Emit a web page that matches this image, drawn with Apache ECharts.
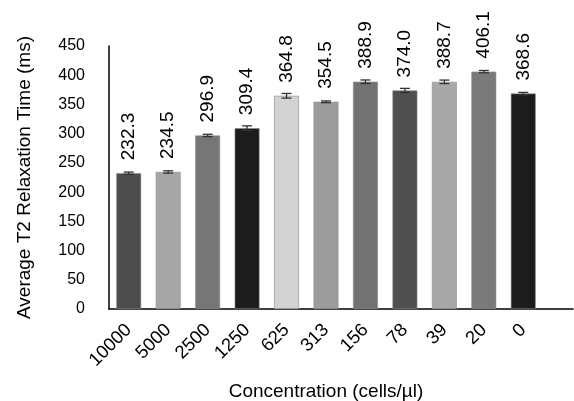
<!DOCTYPE html>
<html><head><meta charset="utf-8">
<script src="https://cdn.jsdelivr.net/npm/echarts@6/dist/echarts.min.js"></script>
<style>html,body{margin:0;padding:0;background:#fff}#c{width:574px;height:401px}</style>
</head><body><div id="c"></div>
<script>
var categories = ['10000','5000','2500','1250','625','313','156','78','39','20','0'];
var values = [232.3,234.5,296.9,309.4,364.8,354.5,388.9,374.0,388.7,406.1,368.6];
var errors = [2,2,2,4,4,1.5,3,3.5,3,2,2];
var colors = ['#4d4d4d','#a6a6a6','#767676','#1c1c1c','#d2d2d2','#9c9c9c','#727272','#505050','#a8a8a8','#7a7a7a','#1c1c1c'];
var yTicks = [0,50,100,150,200,250,300,350,400,450];

var chart = echarts.init(document.getElementById('c'), null, {renderer:'canvas'});
var font = 'Liberation Sans, Arial, sans-serif';
chart.setOption({
  animation:false,
  grid:[{left:109,right:31,top:46,bottom:92,containLabel:false,outerBoundsMode:'none'},
        {left:109,right:1,top:46,bottom:92,containLabel:false,outerBoundsMode:'none'}],
  xAxis:[{
    type:'category', data:categories, gridIndex:0,
    axisLine:{show:false}, axisTick:{show:false},
    axisLabel:{rotate:45, fontSize:18.5, color:'#000', fontFamily:font, margin:18, interval:0},
    name:'Concentration (cells/µl)', nameLocation:'middle', nameGap:73,
    nameTextStyle:{fontSize:19, color:'#000', fontFamily:font}
  },{
    type:'category', data:[''], gridIndex:1,
    axisLine:{show:true, lineStyle:{color:'#000', width:1.5}}, axisTick:{show:false}, axisLabel:{show:false}
  }],
  yAxis:[{
    type:'value', min:yTicks[0], max:yTicks[yTicks.length-1], interval:50, gridIndex:0,
    axisLine:{show:true, lineStyle:{color:'#000', width:1.5}}, axisTick:{show:false},
    splitLine:{show:false},
    axisLabel:{fontSize:16, color:'#000', fontFamily:font, margin:24},
    name:'Average T2 Relaxation Time (ms)', nameLocation:'middle', nameGap:75,
    nameTextStyle:{fontSize:19, color:'#000', fontFamily:font}
  },{
    type:'value', min:0, max:450, gridIndex:1, show:false
  }],
  series:[{
    type:'bar', xAxisIndex:0, yAxisIndex:0, barWidth:'63%',
    data: values.map(function(v,i){return {value:v, itemStyle:{color:colors[i], borderColor:'#8a8a8a', borderWidth:0.6}};}),
    label:{show:true, position:'top', rotate:90, align:'left', verticalAlign:'middle', distance:13,
      fontSize:19, color:'#000', fontFamily:font, formatter:function(p){return p.value.toFixed(1);}}
  },{
    type:'custom', xAxisIndex:0, yAxisIndex:0, z:5,
    data: values.map(function(v,i){return [i, v-errors[i], v+errors[i]];}),
    renderItem:function(params, api){
      var x = api.value(0);
      var lo = api.coord([x, api.value(1)]);
      var hi = api.coord([x, api.value(2)]);
      var hw = 5;
      var st = {stroke:'#333', lineWidth:1.3};
      return {type:'group', children:[
        {type:'line', shape:{x1:lo[0],y1:lo[1],x2:hi[0],y2:hi[1]}, style:st},
        {type:'line', shape:{x1:lo[0]-hw,y1:lo[1],x2:lo[0]+hw,y2:lo[1]}, style:st},
        {type:'line', shape:{x1:hi[0]-hw,y1:hi[1],x2:hi[0]+hw,y2:hi[1]}, style:st}
      ]};
    }
  },{
    type:'bar', xAxisIndex:1, yAxisIndex:1, data:[]
  }]
});
</script></body></html>
